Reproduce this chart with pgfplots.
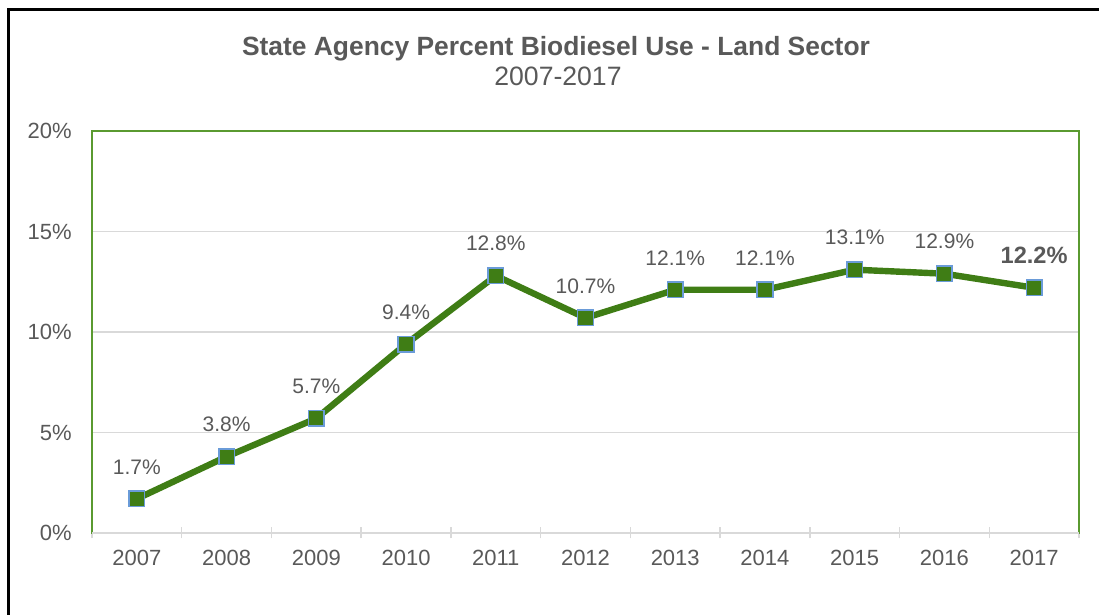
\documentclass[border=0pt]{standalone}
\usepackage{pgfplots}
\pgfplotsset{compat=1.18}
\usepackage{fontspec}
\setmainfont{Liberation Sans}

\definecolor{txt}{HTML}{595959}
\definecolor{gridgray}{HTML}{D9D9D9}
\definecolor{framegreen}{HTML}{5A9A30}
\definecolor{linegreen}{HTML}{3F7D15}
\definecolor{markblue}{HTML}{6A9BD8}

\begin{document}
\begin{tikzpicture}
\useasboundingbox (0,0) rectangle (549.5pt,307.5pt);
% outer frame (only left and top edges fall inside the picture)
\draw[black, line width=1.5pt] (4pt,-20pt) -- (4pt,302.5pt) -- (570pt,302.5pt);

\node[anchor=base, text=txt, font=\bfseries\fontsize{13.2}{15}\selectfont]
  at (278pt,279.5pt) {State Agency Percent Biodiesel Use - Land Sector};
\node[anchor=base, text=txt, font=\fontsize{13.3}{15}\selectfont]
  at (279pt,264.5pt) {2007-2017};

\begin{axis}[
    at={(46pt,41pt)}, anchor=south west,
    scale only axis, width=493.5pt, height=201pt,
    xmin=-0.5, xmax=10.5, ymin=0, ymax=20,
    xtick={0,1,2,3,4,5,6,7,8,9,10},
    xticklabels={2007,2008,2009,2010,2011,2012,2013,2014,2015,2016,2017},
    minor xtick={-0.5,0.5,1.5,2.5,3.5,4.5,5.5,6.5,7.5,8.5,9.5,10.5},
    xtick pos=lower,
    major x tick style={draw=none},
    minor x tick style={draw=gridgray, line width=0.75pt},
    tick align=center,
    minor tick length=5.5pt,
    xticklabel style={yshift=-3pt},
    ytick={0,5,10,15,20},
    yticklabel={\pgfmathprintnumber{\tick}\%},
    yticklabel style={xshift=-4.5pt},
    ytick style={draw=none},
    ymajorgrids,
    major grid style={draw=gridgray, line width=0.75pt},
    y axis line style={draw=framegreen, line width=0.75pt},
    x axis line style={draw=none},
    ticklabel style={text=txt, font=\fontsize{11}{13}\selectfont},
    /pgf/number format/assume math mode=true,
    clip=false,
]
\draw[framegreen, line width=0.75pt] (rel axis cs:0,1) -- (rel axis cs:1,1);
\draw[gridgray, line width=0.75pt] (rel axis cs:0,0) -- (rel axis cs:1,0);

\addplot[color=linegreen, line width=3.2pt, mark=square*, mark size=3.9pt,
    mark options={fill=linegreen, draw=markblue, line width=0.75pt},
    nodes near coords, point meta=explicit symbolic,
    every node near coord/.append style={text=txt,
      font=\fontsize{10.5}{12}\selectfont, anchor=center, yshift=16pt}]
coordinates {
    (0,1.7) [1.7\%]
    (1,3.8) [3.8\%]
    (2,5.7) [5.7\%]
    (3,9.4) [9.4\%]
    (4,12.8) [12.8\%]
    (5,10.7) [10.7\%]
    (6,12.1) [12.1\%]
    (7,12.1) [12.1\%]
    (8,13.1) [13.1\%]
    (9,12.9) [12.9\%]
    (10,12.2) [{\fontsize{11.8}{13}\selectfont\textbf{12.2\%}}]
};
\end{axis}
\end{tikzpicture}
\end{document}
